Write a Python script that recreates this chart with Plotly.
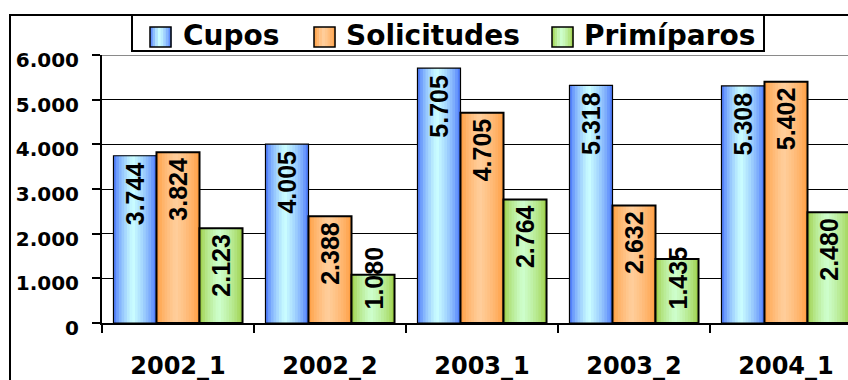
import plotly.graph_objects as go

# ---- data ----
periodos = ["2002_1", "2002_2", "2003_1", "2003_2", "2004_1"]
cupos = [3744, 4005, 5705, 5318, 5308]
solicitudes = [3824, 2388, 4705, 2632, 5402]
primiparos = [2123, 1080, 2764, 1435, 2480]
nombres = ["Cupos", "Solicitudes", "Primíparos"]
y_ticks = [0, 1000, 2000, 3000, 4000, 5000, 6000]

series = [cupos, solicitudes, primiparos]

# ---- geometry helpers (pixels -> paper coordinates) ----
W, H = 848, 380
L, R, T, B = 102, 0, 55, 57
PW, PH = W - L - R, H - T - B
X_END = -0.5 + PW / 152.0          # one category = 152 px


def px(xp):
    return (xp - L) / PW


def py(yp):
    return (H - B - yp) / PH


# cylinder-like horizontal shading per series
estilos = [
    dict(dark=(55, 100, 250), light=(204, 255, 255), lw=1.2),
    dict(dark=(255, 150, 50), light=(255, 206, 156), lw=2.0),
    dict(dark=(150, 200, 50), light=(206, 255, 206), lw=2.0),
]


def shade(dark, light, t, peak=0.45):
    s = t / peak if t <= peak else (1 - t) / (1 - peak)
    s = max(0.0, min(1.0, s)) ** 0.6
    c = [round(d + (l - d) * s) for d, l in zip(dark, light)]
    return f"rgb({c[0]},{c[1]},{c[2]})"


N_STRIPS = 16
BAR_W = 0.283
G0 = -1.5 * BAR_W

fig = go.Figure()

for k, vals in enumerate(series):
    st = estilos[k]
    for j in range(N_STRIPS):
        t = (j + 0.5) / N_STRIPS
        fig.add_trace(go.Bar(
            x=periodos, y=vals,
            offset=G0 + k * BAR_W + j * BAR_W / N_STRIPS,
            width=BAR_W - j * BAR_W / N_STRIPS,
            marker=dict(color=shade(st["dark"], st["light"], t), line=dict(width=0)),
            showlegend=False, hoverinfo="skip",
        ))
    fig.add_trace(go.Bar(
        x=periodos, y=vals, name=nombres[k],
        offset=G0 + k * BAR_W, width=BAR_W,
        marker=dict(color="rgba(0,0,0,0)", line=dict(color="black", width=st["lw"])),
        showlegend=False,
    ))

# ---- value labels, rotated inside the bars ----
LBL_SIZE = 25
px_per_unit = PH / 6000.0
annotations = []
for k, vals in enumerate(series):
    for i, v in enumerate(vals):
        txt = f"{v:,}".replace(",", ".")
        txt_len = LBL_SIZE * (0.556 * sum(ch.isdigit() for ch in txt) + 0.278 * txt.count("."))
        base = dict(
            x=i + G0 + (k + 0.5) * BAR_W, xref="x", yref="y",
            text=f"<b>{txt}</b>", textangle=-90, showarrow=False, borderpad=0,
            font=dict(family="Liberation Sans", size=LBL_SIZE, color="black"),
            xanchor="center",
        )
        if v * px_per_unit >= txt_len + 20:
            base.update(y=v, yanchor="top", yshift=-5)
        else:
            base.update(y=0, yanchor="bottom", yshift=12)
        annotations.append(base)

# ---- frame, plot border and legend box ----
shapes = []
# outer chart frame (continues past the right / bottom edges)
shapes.append(dict(type="rect", xref="paper", yref="paper",
                   x0=px(10), x1=px(W + 40), y0=py(H + 40), y1=py(15),
                   line=dict(color="black", width=2), fillcolor="rgba(0,0,0,0)"))
# grey top border of the plot area
shapes.append(dict(type="line", xref="paper", yref="y", x0=0, x1=1, y0=6000, y1=6000,
                   line=dict(color="#8a8a8a", width=2)))
shapes.append(dict(type="rect", xref="paper", yref="paper",
                   x0=px(132), x1=px(764), y0=py(51), y1=py(15),
                   line=dict(color="black", width=2), fillcolor="white"))

leg_sq_x = [150, 314, 552]
leg_tx_x = [182, 345, 583]
SQ = 21
for k in range(3):
    st = estilos[k]
    x0 = leg_sq_x[k]
    n = 8
    for j in range(n):
        t = (j + 0.5) / n
        shapes.append(dict(type="rect", xref="paper", yref="paper",
                           x0=px(x0 + SQ * j / n), x1=px(x0 + SQ * (j + 1) / n + 0.4),
                           y0=py(47), y1=py(27), line=dict(width=0),
                           fillcolor=shade(st["dark"], st["light"], t)))
    shapes.append(dict(type="rect", xref="paper", yref="paper",
                       x0=px(x0), x1=px(x0 + SQ), y0=py(47), y1=py(27),
                       line=dict(color="black", width=1.5), fillcolor="rgba(0,0,0,0)"))
    annotations.append(dict(
        xref="paper", yref="paper", x=px(leg_tx_x[k]), y=py(35.5),
        xanchor="left", yanchor="middle", text=f"<b>{nombres[k]}</b>", showarrow=False,
        borderpad=0,
        font=dict(family="DejaVu Sans", size=28, color="black"),
    ))

fig.update_layout(
    width=W, height=H,
    margin=dict(l=L, r=R, t=T, b=B, pad=0),
    paper_bgcolor="white", plot_bgcolor="white",
    barmode="overlay",
    separators=",.",
    showlegend=False,
    shapes=shapes,
    annotations=annotations,
    xaxis=dict(
        type="category", range=[-0.5, X_END],
        tickson="boundaries", ticks="outside", ticklen=8, tickwidth=2, tickcolor="black",
        showline=True, linecolor="black", linewidth=2, showgrid=False,
        tickfont=dict(family="DejaVu Sans", size=24, color="black", weight="bold"),
        ticklabelstandoff=20,
    ),
    yaxis=dict(
        range=[0, 6000], tickvals=y_ticks, tickformat=",d",
        ticks="outside", ticklen=8, tickwidth=1.5, tickcolor="black",
        showline=True, linecolor="black", linewidth=2,
        showgrid=True, gridcolor="black", gridwidth=1.3, zeroline=False,
        tickfont=dict(family="DejaVu Sans", size=20, color="black", weight="bold"),
        ticklabelstandoff=9, ticklabelshift=5,
    ),
)

fig.write_html("out.html")
